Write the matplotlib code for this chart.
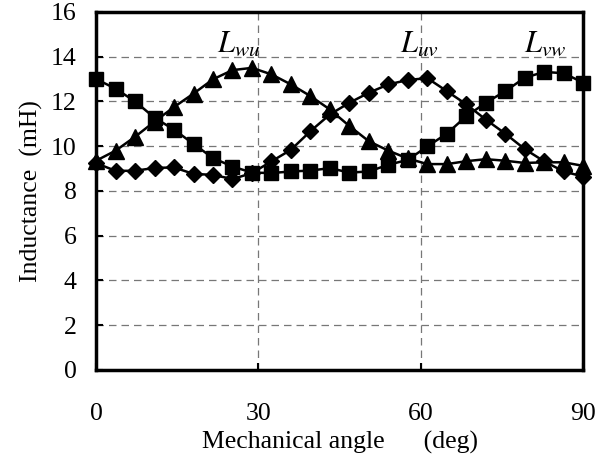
import numpy as np
import matplotlib
matplotlib.use("Agg")
import matplotlib.pyplot as plt

plt.rcParams['font.family'] = ['Liberation Serif', 'DejaVu Serif']
plt.rcParams['mathtext.fontset'] = 'stix'

# mechanical angle, 26 samples from 0 to 90 deg
angle = np.linspace(0, 90, 26)

# L_vw (squares)
l_vw = [13.0, 12.57, 12.0, 11.27, 10.74, 10.1, 9.47, 9.09, 8.82, 8.8,
        8.87, 8.91, 9.02, 8.82, 8.87, 9.17, 9.39, 9.99, 10.56, 11.34,
        11.94, 12.46, 13.06, 13.32, 13.26, 12.84]
# L_wu (triangles)
l_wu = [9.35, 9.8, 10.42, 11.1, 11.75, 12.35, 12.99, 13.4, 13.5, 13.21,
        12.76, 12.24, 11.64, 10.9, 10.22, 9.8, 9.45, 9.2, 9.2, 9.33,
        9.42, 9.35, 9.25, 9.28, 9.28, 9.12]
# L_uv (diamonds)
l_uv = [9.24, 8.9, 8.9, 9.03, 9.05, 8.76, 8.72, 8.53, 8.8, 9.32,
        9.84, 10.67, 11.42, 11.94, 12.39, 12.76, 12.96, 13.04, 12.46, 11.87,
        11.19, 10.56, 9.87, 9.32, 8.87, 8.64]

labels = [r'$L_{wu}$', r'$L_{uv}$', r'$L_{vw}$']
label_x = [26.3, 59.8, 83.0]
label_y = 14.2

fig = plt.figure(figsize=(6.12, 4.59), dpi=100)
ax = fig.add_axes([0.157, 0.194, 0.796, 0.78])

ax.plot(angle, l_wu, color='black', lw=1.8, marker='^', ms=11, clip_on=False, zorder=3)
ax.plot(angle, l_uv, color='black', lw=1.8, marker='D', ms=8, clip_on=False, zorder=3)
ax.plot(angle, l_vw, color='black', lw=1.8, marker='s', ms=10.5, clip_on=False, zorder=3)

for txt, x in zip(labels, label_x):
    ax.text(x, label_y, txt, ha='center', va='baseline', fontsize=22)

ax.set_xlim(0, 90)
ax.set_ylim(0, 16)
ax.set_xticks([0, 30, 60, 90])
ax.set_yticks(np.arange(0, 17, 2))
ax.grid(True, color='#777777', linestyle=(0, (6, 4)), lw=0.9)
ax.tick_params(direction='in', labelsize=18.5, width=1.5, length=5)
ax.tick_params(axis='x', pad=24)
ax.tick_params(axis='y', pad=14)
for s in ax.spines.values():
    s.set_linewidth(2.5)

ax.set_ylabel('Inductance  (mH)', fontsize=18.5, labelpad=6)
ax.set_xlabel('Mechanical angle      (deg)', fontsize=18.5, labelpad=4)

fig.savefig('out.png', dpi=100)
